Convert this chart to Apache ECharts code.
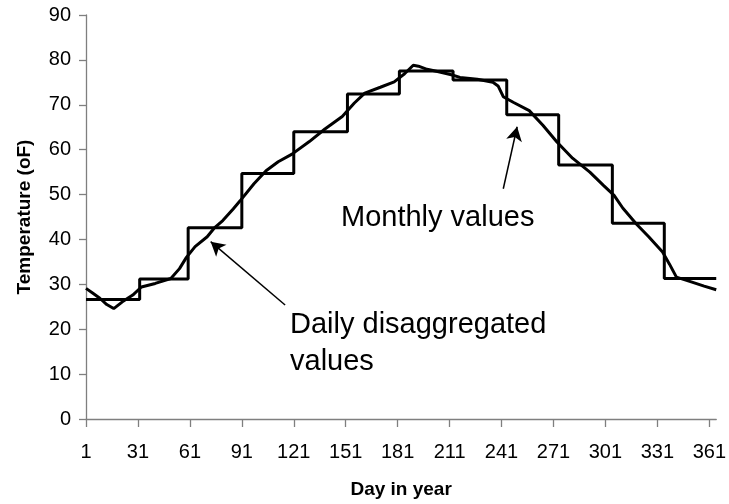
<!DOCTYPE html>
<html>
<head>
<meta charset="utf-8">
<script src="https://cdn.jsdelivr.net/npm/echarts@6/dist/echarts.min.js"></script>
<style>
  html, body { margin: 0; padding: 0; background: #fff; }
  #chart { width: 729px; height: 504px; }
</style>
</head>
<body>
<div id="chart"></div>
<script>
// monthly means, first day of each month (last entry closes December)
const monthStartDays = [1, 32, 60, 91, 121, 152, 182, 213, 244, 274, 305, 335, 365];
const monthlyTemps = [26.6, 31.2, 42.6, 54.7, 64.0, 72.4, 77.5, 75.5, 67.8, 56.6, 43.6, 31.3, 31.3];

// daily disaggregated curve
const dailyDays = [1, 5, 9, 13, 17, 22, 28, 33, 41, 50, 55, 59, 64, 71, 75, 80, 86, 90, 98, 105,
    112, 120, 130, 139, 149, 156, 162, 171, 179, 185, 190, 193, 198, 204, 212, 217, 227, 236, 239, 242,
    248, 257, 265, 273, 282, 292, 300, 306, 311, 319, 326, 334, 338, 342, 351, 358, 365];
const dailyTemps = [29.1, 28.0, 26.9, 25.5, 24.6, 26.1, 27.6, 29.4, 30.2, 31.3, 33.5, 36.0, 38.4, 40.6, 42.5, 44.2, 46.8, 48.6, 52.4, 55.3,
    57.3, 59.0, 61.8, 64.6, 67.4, 70.4, 72.6, 73.9, 75.1, 76.9, 78.8, 78.6, 77.9, 77.4, 76.7, 76.1, 75.7, 75.0, 74.2, 71.8,
    70.5, 68.7, 65.4, 61.7, 58.1, 55.0, 52.0, 49.8, 47.0, 43.4, 40.6, 37.2, 34.5, 31.6, 30.5, 29.6, 28.8];

const yTicks = { min: 0, max: 90, step: 10 };

const dayCategories = [];
for (let d = 1; d <= 365; d++) dayCategories.push(String(d));

const fontName = '"Liberation Sans", Arial, sans-serif';

const chart = echarts.init(document.getElementById('chart'));

chart.setOption({
    animation: false,
    grid: { left: 86, right: 8, top: 15, bottom: 80 },
    xAxis: {
        type: 'category',
        data: dayCategories,
        boundaryGap: false,
        name: 'Day in year',
        nameLocation: 'middle',
        nameGap: 61,
        nameTextStyle: { fontFamily: fontName, fontWeight: 'bold', fontSize: 19, color: '#000' },
        axisLine: { lineStyle: { color: '#7f7f7f', width: 1.3 } },
        axisTick: { interval: 29, length: 8, lineStyle: { color: '#7f7f7f', width: 1.3 } },
        axisLabel: { interval: 29, margin: 23, fontFamily: fontName, fontSize: 20, color: '#000' },
        splitLine: { show: false }
    },
    yAxis: {
        type: 'value',
        min: yTicks.min,
        max: yTicks.max,
        interval: yTicks.step,
        name: 'Temperature (oF)',
        nameLocation: 'middle',
        nameGap: 52,
        nameTextStyle: { fontFamily: fontName, fontWeight: 'bold', fontSize: 19, color: '#000' },
        axisLine: { show: true, lineStyle: { color: '#7f7f7f', width: 1.3 } },
        axisTick: { show: true, length: 7, lineStyle: { color: '#7f7f7f', width: 1.3 } },
        axisLabel: { margin: 15, fontFamily: fontName, fontSize: 20, color: '#000' },
        splitLine: { show: false }
    },
    series: [
        {
            name: 'Monthly values',
            type: 'line',
            step: 'end',
            showSymbol: false,
            data: monthStartDays.map((d, i) => [String(d), monthlyTemps[i]]),
            lineStyle: { color: '#000', width: 3 }
        },
        {
            name: 'Daily disaggregated values',
            type: 'line',
            showSymbol: false,
            data: dailyDays.map((d, i) => [String(d), dailyTemps[i]]),
            lineStyle: { color: '#000', width: 3 },
            markLine: {
                silent: true,
                symbol: ['none', 'arrow'],
                symbolSize: [12, 14],
                label: { show: false },
                lineStyle: { color: '#000', width: 1.5, type: 'solid' },
                data: [
                    [{ coord: ['116', 25.4] }, { coord: ['73', 39.5] }],
                    [{ coord: ['242', 51.3] }, { coord: ['250', 65.1] }]
                ]
            }
        }
    ],
    graphic: [
        {
            type: 'text',
            x: 341,
            y: 203,
            style: { text: 'Monthly values', font: '29px ' + fontName, fill: '#000' }
        },
        {
            type: 'text',
            x: 290,
            y: 306,
            style: { text: 'Daily disaggregated\nvalues', font: '29px ' + fontName, fill: '#000', lineHeight: 37 }
        }
    ]
});
</script>
</body>
</html>
